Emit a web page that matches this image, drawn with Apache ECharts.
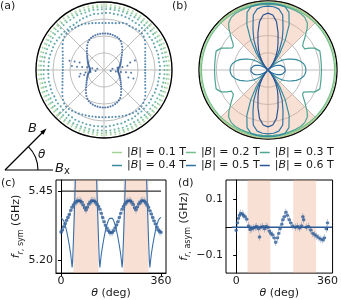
<!DOCTYPE html>
<html><head><meta charset="utf-8">
<script src="https://cdn.jsdelivr.net/npm/echarts@6/dist/echarts.min.js"></script>
<style>html,body{margin:0;padding:0;background:#fff}#c{width:341px;height:300px}</style>
</head><body><div id="c"></div>
<script>
// ---------- data ----------
const FIELDS = ['0.1 T','0.2 T','0.3 T','0.4 T','0.5 T','0.6 T'];
const COLORS = ['#a3d393','#72bf8b','#4ea592','#388c9b','#2f72a0','#2c5594'];
const SHADE = [[45,135],[225,315]];

// (a) measured radii (ring units) at angles (deg)
const A_THETA = [0,4,8,12,16,20,24,28,32,36,40,44,48,52,56,60,64,68,72,76,80,84,88,
  92,96,100,104,108,112,116,120,124,128,132,136,140,144,148,152,156,160,164,168,172,176,
  180,184,188,192,196,200,204,208,212,216,220,224,228,232,236,240,244,248,252,256,260,264,268,
  272,276,280,284,288,292,296,300,304,308,312,316,320,324,328,332,336,340,344,348,352,356];
const A_R01 = [3.84,3.83,3.85,3.84,3.82,3.83,3.85,3.84,3.83,3.82,3.84,3.85,3.83,3.82,3.84,3.83,3.85,3.84,3.83,3.82,
 3.84,3.83,3.85,3.84,3.82,3.83,3.84,3.85,3.83,3.82,3.84,3.83,3.85,3.84,3.82,3.83,3.85,3.84,3.83,3.82,
 3.84,3.85,3.83,3.82,3.84,3.83,3.85,3.84,3.83,3.82,3.84,3.83,3.85,3.84,3.82,3.83,3.84,3.85,3.83,3.82,
 3.84,3.83,3.85,3.84,3.82,3.83,3.85,3.84,3.83,3.82,3.84,3.85,3.83,3.82,3.84,3.83,3.85,3.84,3.83,3.82,
 3.84,3.83,3.85,3.84,3.82,3.83,3.84,3.85,3.83,3.82];
const A_R02 = [3.71,3.72,3.70,3.71,3.73,3.72,3.70,3.71,3.72,3.70,3.71,3.73,3.72,3.70,3.71,3.72,3.71,3.70,3.72,3.73,
 3.71,3.70,3.72,3.71,3.73,3.72,3.70,3.71,3.72,3.70,3.71,3.72,3.70,3.71,3.73,3.72,3.70,3.71,3.72,3.71,
 3.70,3.72,3.71,3.73,3.72,3.70,3.71,3.72,3.70,3.71,3.73,3.72,3.70,3.71,3.72,3.71,3.70,3.72,3.73,3.71,
 3.70,3.72,3.71,3.73,3.72,3.70,3.71,3.72,3.70,3.71,3.72,3.70,3.71,3.73,3.72,3.70,3.71,3.72,3.71,3.70,
 3.72,3.71,3.73,3.72,3.70,3.71,3.72,3.70,3.71,3.72];
const A_R03 = [3.55,3.57,3.56,3.54,3.56,3.58,3.57,3.55,3.56,3.57,3.58,3.56,3.55,3.57,3.58,3.59,3.57,3.58,3.60,3.59,
 3.58,3.60,3.59,3.58,3.57,3.59,3.58,3.56,3.57,3.58,3.56,3.55,3.57,3.56,3.54,3.55,3.57,3.56,3.55,3.54,
 3.56,3.55,3.57,3.56,3.55,3.54,3.56,3.57,3.55,3.56,3.58,3.57,3.56,3.58,3.59,3.58,3.60,3.59,3.58,3.59,
 3.60,3.58,3.59,3.57,3.58,3.59,3.57,3.56,3.58,3.57,3.56,3.55,3.57,3.56,3.55,3.54,3.56,3.55,3.57,3.56,
 3.55,3.54,3.56,3.55,3.56,3.57,3.55,3.56,3.55,3.56];
const A_R04 = [3.28,3.30,3.27,3.29,3.31,3.30,3.28,3.32,3.33,3.31,3.34,3.35,3.33,3.36,3.34,3.35,3.37,3.36,3.38,3.36,
 3.35,3.37,3.36,3.34,3.33,3.35,3.32,3.30,3.28,3.25,3.22,3.20,3.23,3.21,3.24,3.26,3.25,3.27,3.29,3.28,
 3.27,3.29,3.30,3.28,3.27,3.29,3.28,3.30,3.31,3.29,3.32,3.33,3.31,3.34,3.35,3.33,3.36,3.35,3.37,3.36,
 3.38,3.37,3.35,3.36,3.34,3.35,3.33,3.32,3.34,3.31,3.30,3.28,3.31,3.29,3.27,3.30,3.28,3.26,3.29,3.27,
 3.25,3.28,3.26,3.24,3.27,3.25,3.28,3.26,3.27,3.29];
const A_R05 = [2.42,2.43,2.45,2.48,2.52,2.58,2.65,2.75,2.86,2.97,3.05,3.10,3.10,3.06,3.02,3.00,3.03,2.98,2.90,2.84,2.80,2.78,2.77,
 2.77,2.78,2.80,2.84,2.88,2.93,2.98,3.00,3.02,3.06,3.10,3.08,3.04,2.97,2.87,2.76,2.66,2.58,2.52,2.48,2.45,2.43,
 2.42,2.44,2.46,2.49,2.54,2.60,2.68,2.78,2.88,2.98,3.06,3.10,3.09,3.05,3.00,2.96,2.92,2.88,2.85,2.82,2.80,2.79,2.78,
 2.78,2.79,2.81,2.84,2.88,2.92,2.97,3.01,3.05,3.08,3.10,3.07,3.02,2.95,2.86,2.76,2.66,2.58,2.52,2.48,2.45,2.43];
const A_R06 = [0.82,0.84,0.88,0.93,0.98,1.03,1.08,1.13,1.19,1.27,1.37,1.48,1.60,1.74,1.86,1.96,2.04,2.08,2.10,2.12,2.14,2.15,2.15,
 2.15,2.14,2.13,2.11,2.08,2.04,1.97,1.88,1.76,1.62,1.50,1.39,1.29,1.21,1.14,1.08,1.03,0.98,0.93,0.89,0.85,0.83,
 0.82,0.84,0.88,0.93,0.98,1.03,1.08,1.13,1.20,1.27,1.36,1.47,1.59,1.72,1.85,1.96,2.05,2.10,2.14,2.17,2.19,2.20,2.21,
 2.21,2.20,2.18,2.15,2.11,2.06,1.99,1.90,1.78,1.64,1.51,1.40,1.30,1.22,1.14,1.08,1.02,0.97,0.92,0.88,0.85,0.83];
const A_SPIKES06 = [[0.4,170],[0.7,171],[1.0,171],[1.3,172],[1.6,173],[1.9,173],
 [0.5,187],[0.8,188],[1.1,188],[1.4,189],[1.5,163],[1.8,164],[2.1,165],[1.2,194],[1.5,195],
 [0.4,352],[0.7,353],[1.0,353],[1.3,354],[1.6,354],[0.5,8],[0.8,9],[1.1,9],[1.4,10],
 [1.6,16],[1.9,17],[1.5,343],[1.8,344]];

// (b) theory radii for first quadrant (mirror-symmetric)
const B_THETA = [0,5,10,15,20,25,28,30,32,35,38,40,42,44,45,46,48,50,55,60,65,70,75,80,85,90];
const B_R01 = [3.93,3.93,3.93,3.93,3.93,3.93,3.93,3.93,3.93,3.93,3.93,3.93,3.93,3.93,3.93,3.93,3.93,3.93,3.93,3.93,3.93,3.93,3.93,3.93,3.93,3.93];
const B_R02 = [3.86,3.86,3.86,3.86,3.86,3.86,3.86,3.86,3.86,3.86,3.86,3.86,3.86,3.86,3.86,3.86,3.86,3.86,3.86,3.86,3.86,3.86,3.86,3.86,3.86,3.86];
const B_R03 = [3.10,3.10,3.12,3.15,3.20,3.00,2.70,2.45,2.42,2.45,2.60,2.75,2.90,3.05,3.15,3.25,3.40,3.55,3.72,3.78,3.79,3.80,3.80,3.80,3.80,3.80];
const B_R04 = [2.20,2.18,2.10,1.95,1.75,1.50,1.36,1.25,1.15,1.00,0.80,0.65,0.45,0.20,0.00,0.05,0.30,0.55,1.20,2.00,2.90,3.55,3.80,3.85,3.86,3.86];
const B_R05 = [1.00,0.99,0.95,0.88,0.78,0.65,0.56,0.50,0.43,0.33,0.22,0.15,0.08,0.02,0.00,0.04,0.20,0.35,0.75,1.30,1.95,2.55,3.30,3.60,3.68,3.70];
const B_R06 = [0,0,0,0,0,0,0,0,0,0,0,0,0,0,0,0.02,0.10,0.25,0.55,0.90,1.30,1.70,2.25,2.85,3.20,3.30];

// (c) symmetric part
const C_THETA = [0,5,10,15,20,25,30,35,40,45,50,55,60,65,70,75,80,85,90,95,100,105,110,115,120,125,130,135,140,145,150,155,160,165,170,175,
 180,185,190,195,200,205,210,215,220,225,230,235,240,245,250,255,260,265,270,275,280,285,290,295,300,305,310,315,320,325,330,335,340,345,350,355,360];
const C_F = [5.303,5.310,5.322,5.333,5.345,5.355,5.366,5.381,5.392,5.400,5.407,5.412,5.415,5.416,5.414,5.410,5.400,5.390,5.382,5.392,5.403,5.410,5.415,5.416,5.414,5.410,5.402,5.395,5.385,5.370,5.355,5.340,5.327,5.317,5.308,5.302,
 5.300,5.302,5.308,5.318,5.328,5.340,5.355,5.370,5.385,5.395,5.403,5.410,5.414,5.416,5.415,5.410,5.402,5.390,5.383,5.393,5.404,5.410,5.415,5.416,5.414,5.408,5.400,5.392,5.380,5.368,5.355,5.343,5.332,5.320,5.310,5.305,5.302];
const C_FIT_TQ = [0,5,10,15,20,25,30,35,38,40,42,45,48,50,52,55,60,70,80,90];
const C_FIT_FQ = [5.355,5.352,5.343,5.328,5.308,5.283,5.255,5.222,5.195,5.175,5.200,5.280,5.370,5.430,5.500,5.600,5.700,5.750,5.780,5.800];
const C_REF = [[0,5.45],[360,5.45]];

// (d) asymmetric part
const D_THETA = [0,5,9,13,18,24,29,35,42,49,55,62,68,75,81,88,92,97,105,112,118,125,131,137,143,150,156,163,168,173,
 180,184,190,196,202,209,215,223,233,242,250,258,263,266,276,285,294,302,310,318,326,334,342,348,355,360];
const D_F = [-0.011,0.016,0.032,0.043,0.050,0.048,0.043,0.038,0.029,0.005,-0.008,-0.005,-0.003,0.000,0.003,-0.005,-0.035,0.000,0.003,-0.005,0.003,0.000,-0.014,-0.022,-0.027,-0.038,-0.054,-0.038,-0.022,-0.005,
 0.011,0.027,0.038,0.054,0.043,0.027,0.016,0.005,0.000,0.003,-0.003,0.005,0.038,0.027,0.000,0.003,-0.010,-0.022,-0.027,-0.032,-0.038,-0.043,-0.046,-0.038,-0.005,0.016];
const D_FIT = [[-18,0],[378,0]];

const X_TICKS = [0,360];
const C_YTICKS = [5.20,5.45];
const D_YTICKS = [-0.1,0.1];

// ---------- helpers ----------
function fullCircle(tq, rq){
  const out=[]; const n=tq.length;
  for(let i=0;i<n;i++) out.push([rq[i], tq[i]]);
  for(let i=n-2;i>=0;i--) out.push([rq[i], 180-tq[i]]);
  for(let i=1;i<n;i++) out.push([rq[i], 180+tq[i]]);
  for(let i=n-2;i>=0;i--) out.push([rq[i], 360-tq[i]]);
  return out;
}
function fullPeriod(tq, fq){
  const out=[]; const n=tq.length;
  for(let i=0;i<n;i++) out.push([tq[i], fq[i]]);
  for(let i=n-2;i>=0;i--) out.push([180-tq[i], fq[i]]);
  for(let i=1;i<n;i++) out.push([180+tq[i], fq[i]]);
  for(let i=n-2;i>=0;i--) out.push([360-tq[i], fq[i]]);
  return out;
}
const SHADE_COLOR = 'rgba(236,168,138,0.36)';
const DATA_COLOR = '#2b5a96';
const FONT = 'DejaVu Sans';
const TXT = '#1a1a1a';
const ERR_SYMBOL = 'path://M4.6,0H5.4V18H4.6Z M1,9A4,4 0 1,1 9,9A4,4 0 1,1 1,9Z';

const A_R = [A_R01,A_R02,A_R03,A_R04,A_R05,A_R06];
const B_R = [B_R01,B_R02,B_R03,B_R04,B_R05,B_R06];

function angleAx(i){ return {polarIndex:i, type:'value', min:0, max:360, interval:45, startAngle:0, clockwise:false,
  axisLine:{lineStyle:{color:'#000', width:1.3}}, axisTick:{show:false}, axisLabel:{show:false},
  splitLine:{show:true, lineStyle:{color:'#bdbdbd', width:1}}}; }
function radiusAx(i){ return {polarIndex:i, type:'value', min:0, max:4, interval:1,
  axisLine:{show:false}, axisTick:{show:false}, axisLabel:{show:false},
  splitLine:{show:true, lineStyle:{color:'#bdbdbd', width:1}}}; }

const richName = {
  i:{fontStyle:'italic', fontSize:11, lineHeight:16, verticalAlign:'middle', fontFamily:FONT, color:TXT},
  n:{fontSize:11, lineHeight:16, verticalAlign:'middle', fontFamily:FONT, color:TXT},
  si:{fontStyle:'italic', fontSize:8, lineHeight:8, verticalAlign:'bottom', fontFamily:FONT, color:TXT},
  s:{fontSize:8, lineHeight:8, verticalAlign:'bottom', fontFamily:FONT, color:TXT}
};

function xAx(gi, min, max){ return {gridIndex:gi, type:'value', min:min, max:max,
  axisLine:{lineStyle:{color:'#000', width:1}}, splitLine:{show:false},
  axisTick:{customValues:X_TICKS, length:3, lineStyle:{color:'#000'}},
  axisLabel:{customValues:X_TICKS, margin:3, fontSize:11, color:TXT, fontFamily:FONT},
  name:'{i|θ}{n| (deg)}', nameLocation:'middle', nameGap:3, nameTextStyle:{rich:richName}}; }
function yAx(gi, min, max, ticks, fmt, name){ return {gridIndex:gi, type:'value', min:min, max:max,
  axisLine:{lineStyle:{color:'#000', width:1}}, splitLine:{show:false},
  axisTick:{customValues:ticks, length:3, lineStyle:{color:'#000'}},
  axisLabel:{customValues:ticks, margin:3, fontSize:11, color:TXT, fontFamily:FONT, formatter:fmt},
  name:name, nameLocation:'middle', nameRotate:90, nameGap:28, nameTextStyle:{rich:richName}}; }

const series = [];
// (a)
A_R.forEach((R,k)=>{
  series.push({type:'scatter', coordinateSystem:'polar', polarIndex:0, silent:true, symbolSize:2.1,
    itemStyle:{color:COLORS[k]}, data:A_THETA.map((t,i)=>[R[i], t])});
});
series.push({type:'scatter', coordinateSystem:'polar', polarIndex:0, silent:true, symbolSize:2,
  itemStyle:{color:COLORS[5]}, data:A_SPIKES06});
// (b)
series.push({type:'custom', coordinateSystem:'polar', polarIndex:1, silent:true, data:SHADE,
  renderItem:function(params, api){
    const a0 = api.value(0), a1 = api.value(1);
    const pts=[api.coord([0,a0])];
    for(let a=a0;a<=a1+1e-9;a+=1) pts.push(api.coord([4,a]));
    return {type:'polygon', shape:{points:pts}, style:{fill:SHADE_COLOR}};
  }});
B_R.forEach((R,k)=>{
  series.push({type:'line', name:FIELDS[k], coordinateSystem:'polar', polarIndex:1, silent:true,
    showSymbol:false, symbol:'none', color:COLORS[k], lineStyle:{color:COLORS[k], width:1.2},
    data:fullCircle(B_THETA, R)});
});
// (c)
series.push({type:'line', xAxisIndex:0, yAxisIndex:0, silent:true, symbol:'none', data:C_REF,
  lineStyle:{color:'#000', width:1},
  markArea:{silent:true, itemStyle:{color:SHADE_COLOR}, data:SHADE.map(s=>[{xAxis:s[0]},{xAxis:s[1]}])}});
series.push({type:'line', xAxisIndex:0, yAxisIndex:0, silent:true, symbol:'none',
  data:fullPeriod(C_FIT_TQ, C_FIT_FQ), lineStyle:{color:'#3a6ea8', width:1.1}});
series.push({type:'scatter', xAxisIndex:0, yAxisIndex:0, silent:true, symbol:ERR_SYMBOL, symbolSize:[3.6,7.5],
  itemStyle:{color:DATA_COLOR}, data:C_THETA.map((t,i)=>[t, C_F[i]])});
// (d)
series.push({type:'line', xAxisIndex:1, yAxisIndex:1, silent:true, symbol:'none', data:D_FIT,
  lineStyle:{color:DATA_COLOR, width:1.4},
  markArea:{silent:true, itemStyle:{color:SHADE_COLOR}, data:SHADE.map(s=>[{xAxis:s[0]},{xAxis:s[1]}])}});
series.push({type:'scatter', xAxisIndex:1, yAxisIndex:1, silent:true, symbol:ERR_SYMBOL, symbolSize:[3.6,7.5],
  itemStyle:{color:DATA_COLOR}, data:D_THETA.map((t,i)=>[t, D_F[i]])});

const chart = echarts.init(document.getElementById('c'), null, {renderer:'canvas'});
chart.setOption({
  animation:false,
  backgroundColor:'#fff',
  textStyle:{fontFamily:FONT},
  polar:[{center:[104,70], radius:68},{center:[268,70], radius:69}],
  angleAxis:[angleAx(0), angleAx(1)],
  radiusAxis:[radiusAx(0), radiusAx(1)],
  grid:[{left:56, top:180, width:110, height:103, show:true, borderColor:'#000', borderWidth:1},
        {left:226, top:180, width:109, height:104, show:true, borderColor:'#000', borderWidth:1}],
  xAxis:[xAx(0,-18,378), xAx(1,-40,380)],
  yAxis:[yAx(0,5.155,5.49,C_YTICKS,v=>v.toFixed(2),'{i|f}{si|r}{s|, sym}{n| (GHz)}'),
         yAx(1,-0.165,0.17,D_YTICKS,v=>(v<0?'\u2212':'')+Math.abs(v).toFixed(1),'{i|f}{si|r}{s|, asym}{n| (GHz)}')],
  legend:{data:FIELDS, left:112, top:146, width:232, padding:0, itemWidth:10, itemHeight:1.5, itemGap:0,
    icon:'rect', selectedMode:false,
    formatter:n=>'|{i|B}| = '+n,
    textStyle:{fontSize:11, lineHeight:13, color:TXT, fontFamily:FONT,
      rich:{i:{fontStyle:'italic', fontSize:11, lineHeight:13, color:TXT, fontFamily:FONT}}}},
  graphic:[
    {type:'text', left:0, top:1, style:{text:'(a)', fontSize:11, fill:TXT, fontFamily:FONT}},
    {type:'text', left:172, top:1, style:{text:'(b)', fontSize:11, fill:TXT, fontFamily:FONT}},
    {type:'text', left:1, top:178, style:{text:'(c)', fontSize:11, fill:TXT, fontFamily:FONT}},
    {type:'text', left:178, top:178, style:{text:'(d)', fontSize:11, fill:TXT, fontFamily:FONT}},
    {type:'line', shape:{x1:5,y1:170,x2:43,y2:132}, style:{stroke:'#000', lineWidth:1.2}},
    {type:'polygon', shape:{points:[[46.5,128.5],[40.2,131.6],[43.4,134.8]]}, style:{fill:'#000'}},
    {type:'line', shape:{x1:5,y1:170,x2:53,y2:170}, style:{stroke:'#000', lineWidth:1.2}},
    {type:'arc', shape:{cx:5, cy:170, r:33, startAngle:-Math.PI/4, endAngle:0}, style:{stroke:'#000', lineWidth:1.1, fill:null}},
    {type:'text', left:28, top:122, style:{text:'B', fontSize:13, fontStyle:'italic', fill:TXT, fontFamily:FONT}},
    {type:'text', left:38, top:149, style:{text:'θ', fontSize:12, fontStyle:'italic', fill:TXT, fontFamily:FONT}},
    {type:'text', left:55, top:162, style:{text:'{b|B}{x|x}', rich:{
       b:{fontSize:13, fontStyle:'italic', fontFamily:FONT, fill:TXT, lineHeight:16, verticalAlign:'middle'},
       x:{fontSize:10, fontFamily:FONT, fill:TXT, lineHeight:10, verticalAlign:'bottom'}}}}
  ],
  series:series
});
</script></body></html>
